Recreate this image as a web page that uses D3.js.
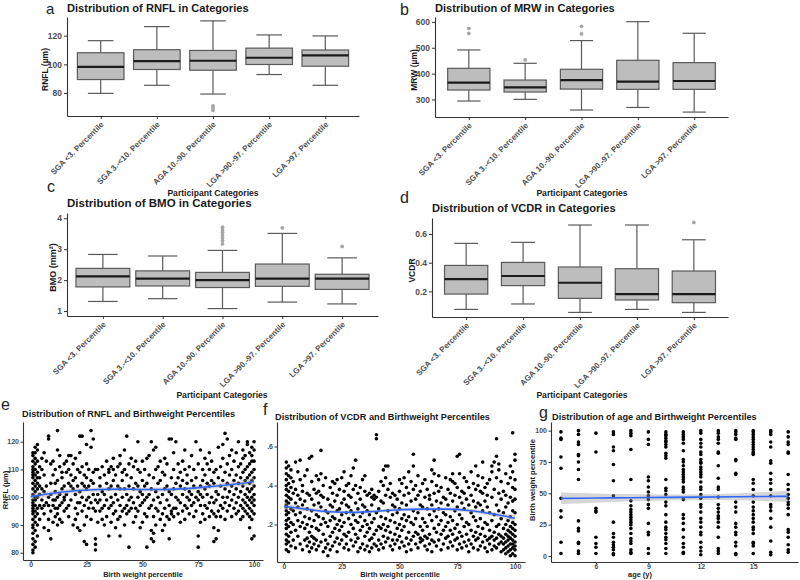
<!DOCTYPE html>
<html><head><meta charset="utf-8">
<script src="https://cdn.jsdelivr.net/npm/d3@7"></script>
<style>body{margin:0;background:#fff}svg{display:block;font-family:"Liberation Sans",Arial,sans-serif}</style>
</head><body><svg width="800" height="580"></svg>
<script>
// ---------- DATA ----------
const categories = ["SGA <3. Percentile","SGA 3.-<10. Percentile","AGA 10.-90. Percentile","LGA >90.-97. Percentile","LGA >97. Percentile"];
// [lower whisker, Q1, median, Q3, upper whisker]
const rnflBox = [[79.8,89.4,98.2,108.1,116.5],[85.4,96.4,102.2,110.2,126.3],[79.3,95.9,102.5,109.7,130.3],[92.9,99.9,104.6,111.3,120.5],[85.4,98.7,106.2,110.0,119.8]];
const rnflOut = [[],[],[71,69.5,68],[],[]];
const mrwBox = [[293.8,336.4,364.9,420.4,491.5],[300.3,328.7,346.8,375,439.8],[259,340,375,416.6,527.7],[269,339,368.8,451.4,601],[251,339,371.3,442.4,556]];
const mrwOut = [[556,575],[452.7],[553.5,583],[],[]];
const bmoBox = [[1.31,1.78,2.12,2.38,2.83],[1.40,1.81,2.05,2.30,2.78],[1.08,1.76,2.00,2.25,2.96],[1.29,1.80,2.05,2.52,3.51],[1.23,1.70,2.05,2.19,2.72]];
const bmoOut = [[],[],[3.17,3.28,3.37,3.46,3.55,3.62,3.71],[3.69],[3.09]];
const vcdrBox = [[0.074,0.181,0.286,0.381,0.535],[0.112,0.240,0.307,0.402,0.542],[0.053,0.151,0.260,0.370,0.663],[0.074,0.140,0.181,0.358,0.663],[0.053,0.121,0.181,0.342,0.560]];
const vcdrOut = [[],[],[],[],[0.681]];

const rnflTicks = [80,100,120];
const mrwTicks = [300,400,500,600];
const bmoTicks = [1,2,3,4];
const vcdrTicks = [0.2,0.4,0.6];
const pctTicks = [0,25,50,75,100];
const ageTicks = [6,9,12,15];

// Panel e: birth weight percentile -> RNFL values
const rnflScatter = [
[1,[80,81,83,85,87,89,90,92,94,95,96,97,98,99,101,103,105,107,108,109,110,111,113,115,116]],
[2,[82,84,88,91,93,95,97,99,100,102,104,106,108,110,112,114,116,118]],
[3,[86,90,94,96,100,103,105,107,109,113,117,119]],
[4,[92,97,101,104,107,111]],[5,[96,99,103,110,114]],[6,[89,94,97,102,108,116]],
[7,[98,104,113]],[8,[88,92,97,100,121,122]],[9,[85,95,101,105,112]],
[10,[91,97,99,108,113]],[11,[93,96,99,102,105,110]],[12,[90,94,96,100,106,117,124]],
[13,[92,97,101,111,115]],[14,[91,98,103,107,109]],[15,[95,99,100,104,112]],
[16,[96,101,109,113]],[17,[93,97,105,110,115]],[18,[99,104,108,115]],
[19,[90,103,106,112]],[20,[92,96,101,107,114]],[21,[89,94,98,104,110]],
[22,[88,98,102,109,116,122]],[23,[95,100,105,111,122]],[24,[84,90,97,104,108]],
[25,[83,93,99,103,107,112,119]],[26,[96,100,104,110]],[27,[92,98,106,118,124]],
[28,[96,101,105,109,121]],[29,[81,83,85,95,99,110]],[30,[91,98,101,110]],
[31,[95,99,104,107]],[32,[92,96,102,111]],[33,[90,97,101,108]],
[34,[93,99,105,113]],[35,[86,96,103,109,110]],[36,[91,97,100,104,111]],
[37,[94,98,106,110,114]],[38,[89,95,101,108]],[39,[92,99,104,111]],
[40,[86,93,97,103,112,115]],[41,[95,100,106,109]],[42,[90,96,103,110,117]],
[43,[94,97,101,108,122]],[44,[82,95,99,104,112]],[45,[96,100,107,114]],
[46,[91,98,103,111]],[47,[93,96,105,113]],[48,[95,100,104,110,120]],
[49,[89,97,102,109]],[50,[91,98,101,106,113]],[51,[94,99,104,110]],
[52,[82,93,100,105,114]],[53,[96,101,108,115]],[54,[85,88,97,103,120]],
[55,[84,87,93,99,107,117]],[56,[90,96,102,110,118]],[57,[95,100,105,111]],
[58,[92,98,106,113]],[59,[88,94,101,109]],[60,[90,96,103,108,114]],
[61,[93,99,104,112]],[62,[85,92,97,102,121]],[63,[94,95,101,107,121]],
[64,[93,96,103,110,116]],[65,[96,100,105,120]],[66,[94,99,107,112]],
[67,[91,98,104,109]],[68,[95,101,106,113]],[69,[92,97,103,110,117]],
[70,[96,100,105,108]],[71,[94,99,102,111]],[72,[97,101,106,115]],
[73,[93,98,104,110]],[74,[95,100,107,120]],[75,[82,86,99,102,112]],
[76,[91,97,101,104,117]],[77,[94,100,106,110]],[78,[92,97,103,108,114]],
[79,[96,101,105,112]],[80,[93,98,104,110,116]],[81,[95,100,106,113]],
[82,[84,89,94,98,105,109]],[83,[85,93,99,102,110]],[84,[88,95,101,107,118]],
[85,[93,97,104,111]],[86,[96,100,106,114,119]],[87,[92,98,103,109,123]],
[88,[95,100,105,112,121]],[89,[97,102,108,115]],[90,[93,99,104,110,117]],
[91,[96,101,106,113]],[92,[94,98,103,108,116]],[93,[95,100,105,111,120]],
[94,[92,97,102,107,112]],[95,[93,96,99,104,109,114,117]],[96,[95,98,101,106,110,115]],
[97,[94,97,100,103,107,111,119,120]],[98,[89,93,96,99,102,105,108,112,116]],
[99,[85,92,95,98,100,103,106,109,113,115,118]],[100,[86,94,97,99,101,104,107,110,113,117,120]]
];
const rnflSmoothX = [0,10,20,30,40,50,60,70,80,90,100];
const rnflSmoothY = [100.2,101.4,102.3,102.8,102.9,102.8,102.8,103.1,103.8,104.6,105.6];
const rnflSmoothSE = [1.3,0.9,0.8,0.7,0.7,0.7,0.7,0.7,0.8,0.9,1.3];

// Panel f: birth weight percentile -> VCDR values
const vcdrScatter = [
[1,[0.07,0.1,0.12,0.15,0.18,0.2,0.22,0.25,0.27,0.29,0.3,0.32,0.35,0.38,0.4,0.43,0.46,0.49,0.52]],
[2,[0.06,0.11,0.14,0.19,0.23,0.26,0.31,0.34,0.37,0.41,0.45,0.5]],
[3,[0.09,0.16,0.21,0.28,0.33,0.39,0.44,0.48]],[4,[0.12,0.2,0.27,0.36,0.42]],
[5,[0.08,0.17,0.25,0.31,0.38,0.52]],[6,[0.14,0.22,0.29,0.35,0.47]],
[7,[0.1,0.19,0.26,0.33,0.43,0.53]],[8,[0.07,0.21,0.3,0.37,0.4]],
[9,[0.12,0.18,0.24,0.32,0.45]],[10,[0.09,0.13,0.2,0.28,0.36,0.48]],
[11,[0.06,0.11,0.16,0.23,0.35,0.54]],[12,[0.08,0.14,0.19,0.27,0.33,0.42,0.55]],
[13,[0.1,0.13,0.22,0.3,0.38]],[14,[0.07,0.12,0.18,0.25,0.36,0.45]],
[15,[0.09,0.17,0.24,0.31,0.37,0.43]],[16,[0.11,0.2,0.29,0.35,0.46,0.58]],
[17,[0.06,0.15,0.23,0.34,0.4]],[18,[0.08,0.12,0.21,0.27,0.44]],
[19,[0.04,0.1,0.19,0.26,0.33]],[20,[0.07,0.14,0.22,0.3,0.39]],
[21,[0.09,0.16,0.24,0.29,0.36,0.42]],[22,[0.11,0.18,0.23,0.32,0.41]],
[23,[0.06,0.13,0.2,0.27,0.35,0.43]],[24,[0.1,0.17,0.22,0.28,0.38]],
[25,[0.12,0.19,0.25,0.31,0.44]],[26,[0.08,0.15,0.21,0.33,0.37,0.47]],
[27,[0.1,0.14,0.26,0.3,0.4]],[28,[0.07,0.16,0.23,0.29,0.35,0.41]],
[29,[0.12,0.2,0.27,0.34,0.45]],[30,[0.09,0.18,0.25,0.38,0.49]],
[31,[0.11,0.15,0.22,0.31,0.4,0.53]],[32,[0.06,0.13,0.21,0.28,0.36]],
[33,[0.08,0.17,0.24,0.33,0.39]],[34,[0.1,0.19,0.26,0.3,0.43]],
[35,[0.07,0.14,0.22,0.29,0.37,0.45]],[36,[0.09,0.16,0.2,0.27,0.35]],
[37,[0.06,0.12,0.18,0.25,0.36]],[38,[0.08,0.13,0.21,0.3,0.34,0.38]],
[39,[0.1,0.15,0.23,0.33,0.35]],[40,[0.09,0.17,0.26,0.34,0.64,0.66]],
[41,[0.07,0.12,0.19,0.28,0.37]],[42,[0.1,0.18,0.24,0.32,0.42]],
[43,[0.08,0.14,0.2,0.31,0.4,0.48]],[44,[0.11,0.17,0.23,0.35,0.44,0.5]],
[45,[0.13,0.19,0.27,0.38,0.5]],[46,[0.09,0.16,0.22,0.34,0.41]],
[47,[0.07,0.12,0.25,0.3,0.36]],[48,[0.1,0.15,0.21,0.29,0.35]],
[49,[0.12,0.18,0.26,0.33]],[50,[0.08,0.14,0.2,0.28,0.37,0.43]],
[51,[0.11,0.17,0.23,0.31,0.41]],[52,[0.09,0.19,0.25,0.35,0.44]],
[53,[0.06,0.13,0.22,0.3,0.39]],[54,[0.1,0.16,0.24,0.36,0.47]],
[55,[0.07,0.12,0.21,0.32,0.42]],[56,[0.14,0.2,0.27,0.38,0.5,0.56]],
[57,[0.1,0.16,0.23,0.33,0.4]],[58,[0.08,0.15,0.26,0.35,0.45]],
[59,[0.11,0.13,0.19,0.3,0.37]],[60,[0.12,0.17,0.23,0.29,0.41]],
[61,[0.09,0.14,0.21,0.34,0.43]],[62,[0.07,0.13,0.19,0.28,0.38]],
[63,[0.1,0.15,0.25,0.33,0.35]],[64,[0.06,0.12,0.22,0.3,0.42,0.48]],
[65,[0.11,0.18,0.27,0.36,0.46,0.53]],[66,[0.09,0.16,0.24,0.32,0.4]],
[67,[0.12,0.2,0.28,0.37,0.45]],[68,[0.07,0.15,0.22,0.31,0.39]],
[69,[0.1,0.17,0.26,0.34]],[70,[0.13,0.19,0.25,0.33,0.44]],
[71,[0.08,0.14,0.21,0.3,0.38]],[72,[0.11,0.17,0.24,0.36,0.43]],
[73,[0.09,0.15,0.22,0.32,0.42,0.46]],[74,[0.12,0.18,0.27,0.35,0.41]],
[75,[0.07,0.13,0.2,0.29,0.39,0.55]],[76,[0.1,0.16,0.25,0.34,0.46,0.56]],
[77,[0.08,0.14,0.23,0.31,0.37]],[78,[0.11,0.19,0.28,0.36,0.44]],
[79,[0.09,0.15,0.21,0.33,0.42]],[80,[0.06,0.12,0.2,0.3,0.39]],
[81,[0.1,0.17,0.26,0.35,0.47]],[82,[0.08,0.14,0.24,0.32,0.41]],
[83,[0.12,0.16,0.22,0.29,0.38,0.5]],[84,[0.07,0.13,0.19,0.31,0.4,0.45]],
[85,[0.09,0.15,0.23,0.3,0.37]],[86,[0.11,0.18,0.27,0.36,0.44,0.52]],
[87,[0.08,0.14,0.21,0.32,0.39]],[88,[0.06,0.12,0.2,0.29,0.35,0.41]],
[89,[0.1,0.13,0.17,0.26,0.43]],[90,[0.07,0.14,0.22,0.34,0.47,0.5]],
[91,[0.09,0.12,0.16,0.25,0.38,0.52]],[92,[0.08,0.13,0.19,0.3,0.44,0.55,0.64]],
[93,[0.1,0.15,0.2,0.27,0.36,0.48,0.51]],[94,[0.06,0.11,0.14,0.23,0.33,0.42]],
[95,[0.07,0.1,0.13,0.18,0.26,0.37]],[96,[0.05,0.08,0.11,0.15,0.2,0.29,0.35,0.46]],
[97,[0.06,0.09,0.12,0.14,0.17,0.22,0.31,0.41]],
[98,[0.04,0.07,0.1,0.13,0.16,0.19,0.24,0.34,0.44,0.5]],
[99,[0.05,0.08,0.1,0.12,0.15,0.18,0.21,0.27,0.32,0.39,0.47,0.67]],
[100,[0.04,0.07,0.09,0.11,0.14,0.17,0.2,0.26,0.33,0.38,0.43,0.53,0.56]]
];
const vcdrSmoothX = [0,10,20,30,40,50,60,70,80,90,100];
const vcdrSmoothY = [0.294,0.278,0.265,0.262,0.268,0.276,0.279,0.279,0.272,0.255,0.232];
const vcdrSmoothSE = [0.016,0.010,0.009,0.008,0.008,0.008,0.008,0.008,0.009,0.011,0.016];

// Panel g: age (y) -> birth weight percentiles
const ages = [4,5,6,7,8,9,10,11,12,13,14,15,16,17];
const bwByAge = [
[99,94,93,79,70,46,36,31,11,2],
[100,97,91,89,81,80,75,69,61,28,22,20,11,10,4,2],
[98,83,38,36,35,15,10,7,2],
[99,97,87,84,73,60,48,27,18,15,11,9,7,5,2,1],
[100,98,96,85,61,44,40,37,35,33,31,29,27,25,22,18,14,12,10,5,3,2],
[99,93,89,63,60,55,51,48,45,41,38,26,19,17,6,2],
[99,97,96,94,92,91,89,87,82,80,78,61,54,52,49,43,40,33,27,23,21,18,15,13,10,6,2],
[99,97,95,93,90,84,77,75,72,69,67,65,63,61,59,55,53,51,45,33,30,26,21,15,10,7,3,2],
[100,98,93,90,87,83,81,77,75,74,71,69,67,65,63,59,55,53,49,46,41,39,35,30,27,23,19,17,11,7,4,1],
[100,98,95,93,90,83,82,72,62,55,53,47,41,38,35,32,30,27,23,15,6,4,2],
[100,99,97,94,93,77,76,66,65,43,39,35,26,23,19,17,11,8,2,1],
[100,99,97,95,93,91,89,87,85,83,82,81,61,58,53,48,43,39,36,33,30,27,23,21,18,11,10,8,2],
[100,99,97,91,87,76,74,66,61,58,53,48,41,39,36,30,23,12,3,1],
[99,95,91,89,83,82,65,57,53,49,46,43,41,38,33,21,19,15,9,5,3]
];
const ageFitX = [4,17];
const ageFitY = [46,47.6];
const ageBandX = [4,6,8,10,12,14,16,17];
const ageBandHalf = [4.6,3.7,2.9,2.4,2.3,2.7,3.8,4.5];

// ---------- DRAWING ----------
const svg = d3.select("svg");
const TXT = "#4d4d4d";

function label(x, y, str, size, opts = {}) {
  const t = svg.append("text").attr("x", x).attr("y", y).text(str)
    .attr("font-size", size).attr("font-weight", opts.weight || "bold")
    .attr("fill", opts.fill || "#1a1a1a").attr("text-anchor", opts.anchor || "start");
  if (opts.rotate) t.attr("transform", `rotate(${opts.rotate},${x},${y})`);
  return t;
}

function styleAxis(g, fs) {
  g.select(".domain").attr("stroke", "#333").attr("stroke-width", 1.1);
  g.selectAll(".tick line").attr("stroke", "#333");
  g.selectAll(".tick text").attr("fill", TXT).attr("font-size", fs).attr("font-weight", "bold")
    .attr("font-family", "Liberation Sans, Arial, sans-serif");
}

function boxPanel(c) {
  const x = d3.scalePoint().domain(categories).range([c.x0, c.x1]).padding(0.6);
  const y = d3.scaleLinear().domain(c.domain).range([c.yb, c.yt]);
  const bw = x.step() * c.wf, cw = bw * 0.55;
  const g = svg.append("g");
  c.stats.forEach((s, i) => {
    const cx = x(categories[i]);
    const st = (sel) => sel.attr("stroke", "#5a5a5a").attr("stroke-width", 1.2).attr("fill", "none");
    st(g.append("line").attr("x1", cx).attr("x2", cx).attr("y1", y(s[0])).attr("y2", y(s[1])));
    st(g.append("line").attr("x1", cx).attr("x2", cx).attr("y1", y(s[3])).attr("y2", y(s[4])));
    st(g.append("line").attr("x1", cx - cw / 2).attr("x2", cx + cw / 2).attr("y1", y(s[0])).attr("y2", y(s[0])));
    st(g.append("line").attr("x1", cx - cw / 2).attr("x2", cx + cw / 2).attr("y1", y(s[4])).attr("y2", y(s[4])));
    g.append("rect").attr("x", cx - bw / 2).attr("width", bw).attr("y", y(s[3])).attr("height", y(s[1]) - y(s[3]))
      .attr("fill", "#bdbdbd").attr("stroke", "#5a5a5a").attr("stroke-width", 1.2);
    g.append("line").attr("x1", cx - bw / 2).attr("x2", cx + bw / 2).attr("y1", y(s[2])).attr("y2", y(s[2]))
      .attr("stroke", "#1a1a1a").attr("stroke-width", 2.2);
    c.out[i].forEach(v => g.append("circle").attr("cx", cx).attr("cy", y(v)).attr("r", 1.9).attr("fill", "#a6a6a6"));
  });
  const ay = svg.append("g").attr("transform", `translate(${c.x0},0)`)
    .call(d3.axisLeft(y).tickValues(c.ticks).tickSize(3).tickSizeOuter(0).tickPadding(2).tickFormat(c.fmt || d3.format("")));
  styleAxis(ay, c.tfs);
  const ax = svg.append("g").attr("transform", `translate(0,${c.yb})`)
    .call(d3.axisBottom(x).tickSize(3).tickSizeOuter(0));
  styleAxis(ax, 8);
  ax.selectAll(".tick text").attr("x", 0).attr("y", 0).attr("dy", 0).attr("text-anchor", "end")
    .attr("transform", "translate(3,9) rotate(-45)");
  label(c.x0, c.titleY, c.title, c.titleFs);
  label(c.letterX, c.letterY, c.letter, c.letterFs || 16, { weight: "normal", fill: "#222" });
  label(c.ylabX, (c.yb + c.yt) / 2 + 3, c.ylab, c.ylabFs, { anchor: "middle", rotate: -90 });
  label(c.xlabX, c.xlabY, "Participant Categories", 8.6, { anchor: "middle" });
}

boxPanel({ x0: 67, x1: 359, yb: 116, yt: 17, domain: [64, 133], wf: 0.83, stats: rnflBox, out: rnflOut, ticks: rnflTicks, tfs: 8.5,
  title: "Distribution of RNFL in Categories", titleY: 12, titleFs: 11.1, letter: "a", letterX: 46, letterY: 13.5, letterFs: 15,
  ylab: "RNFL (µm)", ylabX: 47.5, ylabFs: 8.5, xlabX: 213, xlabY: 196 });
boxPanel({ x0: 435, x1: 728, yb: 117, yt: 17, domain: [232, 619], wf: 0.75, stats: mrwBox, out: mrwOut, ticks: mrwTicks, tfs: 8.5,
  title: "Distribution of MRW in Categories", titleY: 12, titleFs: 11.1, letter: "b", letterX: 400, letterY: 15,
  ylab: "MRW (µm)", ylabX: 417, ylabFs: 8.5, xlabX: 582, xlabY: 196 });
boxPanel({ x0: 67, x1: 378, yb: 316, yt: 213, domain: [0.84, 4.17], wf: 0.9, stats: bmoBox, out: bmoOut, ticks: bmoTicks, tfs: 8.5,
  title: "Distribution of BMO in Categories", titleY: 207, titleFs: 11.5, letter: "c", letterX: 47, letterY: 192,
  ylab: "BMO (mm²)", ylabX: 56, ylabFs: 9, xlabX: 222, xlabY: 398 });
boxPanel({ x0: 432, x1: 728, yb: 317, yt: 218, domain: [0.021, 0.712], wf: 0.76, stats: vcdrBox, out: vcdrOut, ticks: vcdrTicks, tfs: 8.5,
  fmt: d3.format(".1f"),
  title: "Distribution of VCDR in Categories", titleY: 212, titleFs: 11.1, letter: "d", letterX: 400, letterY: 203,
  ylab: "VCDR", ylabX: 415, ylabFs: 8.5, xlabX: 582, xlabY: 398 });

function scatterPanel(c) {
  const x = d3.scaleLinear().domain(c.xd).range([c.x0, c.x1]);
  const y = d3.scaleLinear().domain(c.yd).range([c.yb, c.yt]);
  const g = svg.append("g");
  c.points.forEach(p => g.append("circle").attr("cx", x(p[0])).attr("cy", y(p[1])).attr("r", 1.8).attr("fill", "#000"));
  g.append("path").datum(c.band)
    .attr("d", d3.area().x(d => x(d[0])).y0(d => y(d[1])).y1(d => y(d[2])).curve(d3.curveMonotoneX))
    .attr("fill", "#999").attr("fill-opacity", 0.4);
  g.append("path").datum(c.band)
    .attr("d", d3.line().x(d => x(d[0])).y(d => y(d[3])).curve(d3.curveMonotoneX))
    .attr("fill", "none").attr("stroke", "#3366ff").attr("stroke-width", 1.6);
  const ay = svg.append("g").attr("transform", `translate(${c.x0},0)`)
    .call(d3.axisLeft(y).tickValues(c.yt_).tickSize(2.5).tickSizeOuter(0).tickPadding(1.5).tickFormat(c.yfmt || d3.format("")));
  styleAxis(ay, 7);
  const ax = svg.append("g").attr("transform", `translate(0,${c.yb})`)
    .call(d3.axisBottom(x).tickValues(c.xt).tickSize(2).tickSizeOuter(0).tickPadding(0.5));
  styleAxis(ax, 7);
  label(c.titleX, c.titleY, c.title, 9.2);
  label(c.letterX, c.letterY, c.letter, 16, { weight: "normal", fill: "#222" });
  label(c.xlabX, 577, c.xlab, 7.4, { anchor: "middle" });
  if (c.ylab) label(c.ylabX, c.ylabY, c.ylab, 7.6, { anchor: "middle", rotate: -90 });
}

const ePts = rnflScatter.flatMap(([p, vs]) => vs.map(v => [p, v]));
const eBand = rnflSmoothX.map((xv, i) => [xv, rnflSmoothY[i] - rnflSmoothSE[i], rnflSmoothY[i] + rnflSmoothSE[i], rnflSmoothY[i]]);
scatterPanel({ x0: 23, x1: 263, yb: 560, yt: 422, xd: [-3.45, 104.0], yd: [77.37, 127.1], points: ePts, band: eBand,
  xt: pctTicks, yt_: [80, 90, 100, 110, 120], title: "Distribution of RNFL and Birthweight Percentiles", titleX: 22, titleY: 417,
  letter: "e", letterX: 1, letterY: 410, xlab: "Birth weight percentile", xlabX: 143, ylab: "RNFL (µm)", ylabX: 8, ylabY: 490 });

const fPts = vcdrScatter.flatMap(([p, vs]) => vs.map(v => [p, v]));
const fBand = vcdrSmoothX.map((xv, i) => [xv, vcdrSmoothY[i] - vcdrSmoothSE[i], vcdrSmoothY[i] + vcdrSmoothSE[i], vcdrSmoothY[i]]);
scatterPanel({ x0: 277, x1: 525, yb: 562, yt: 422, xd: [-3.03, 104.33], yd: [0.0077, 0.7256], points: fPts, band: fBand,
  xt: pctTicks, yt_: [0.2, 0.4, 0.6], yfmt: d => d3.format(".1f")(d).replace(/^0/, ""),
  title: "Distribution of VCDR and Birthweight Percentiles", titleX: 275, titleY: 420,
  letter: "f", letterX: 263, letterY: 415, xlab: "Birth weight percentile", xlabX: 400 });

const fit = d3.scaleLinear().domain(ageFitX).range(ageFitY);
const gPts = ages.flatMap((a, i) => bwByAge[i].map(v => [a, v]));
const gBand = ageBandX.map((a, i) => [a, fit(a) - ageBandHalf[i], fit(a) + ageBandHalf[i], fit(a)]);
scatterPanel({ x0: 551, x1: 798, yb: 562, yt: 422, xd: [3.43, 17.56], yd: [-4.79, 106.9], points: gPts, band: gBand,
  xt: ageTicks, yt_: [0, 25, 50, 75, 100], title: "Distribution of age and Birthweight Percentiles", titleX: 552, titleY: 420,
  letter: "g", letterX: 539, letterY: 418, xlab: "age (y)", xlabX: 640, ylab: "Birth weight percentile", ylabX: 535, ylabY: 480 });
</script></body></html>
